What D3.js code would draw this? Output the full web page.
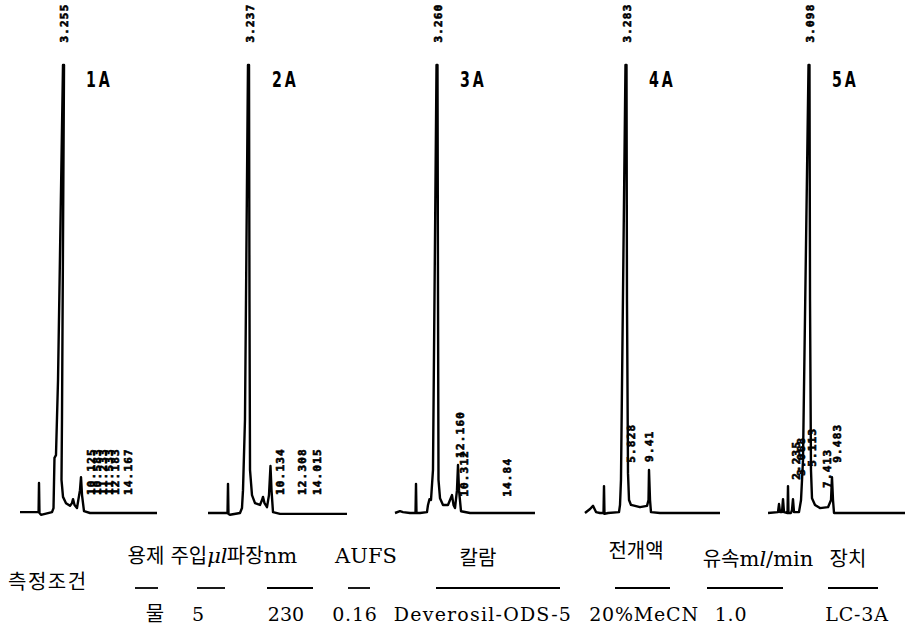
<!DOCTYPE html>
<html>
<head>
<meta charset="utf-8">
<script src="https://cdn.jsdelivr.net/npm/d3@7"></script>
<style>
body { margin: 0; background: #fff; }
.lbl { font-family: "DejaVu Sans Mono", monospace; font-weight: bold; font-size: 11px; letter-spacing: 1.2px; stroke: #000; stroke-width: 0.6px; }
.name { font-family: "DejaVu Sans Condensed", "DejaVu Sans", sans-serif; font-weight: bold; font-size: 21px; letter-spacing: 4px; }
.kr { font-family: "Noto Sans CJK KR", sans-serif; }
.lat { font-family: "DejaVu Serif", "Liberation Serif", serif; }
</style>
</head>
<body>
<div id="gr"></div>
<script>
// chromatogram runs, time in min (0 = injection), signal in % of full scale
var runs = ["1A", "2A", "3A", "4A", "5A"];

var trace1 = [[-3.17,0.2],[-0.17,0.2],[-0.07,0.2],[0,6.7],[0.08,0],[0.33,-0.4],[2.17,0.2],[2.42,1.1],
  [2.58,12.3],[2.83,12.9],[3.17,29.7],[4.0,100],[4.17,100],[3.83,20.8],[3.75,7.4],[4.0,3.6],[4.5,2.2],
  [5.17,1.6],[5.5,2.2],[5.67,3.1],[5.92,1.8],[6.33,1.1],[6.83,5.1],[7.0,8.0],[7.17,4.0],[7.5,0.4],
  [8.5,0],[19.67,0]];
var trace2 = [[-3.33,0],[-0.08,0],[0,6.5],[0.08,-0.2],[0.33,-0.4],[2.0,0],[2.33,1.1],[2.5,5.1],
  [2.83,20.8],[3.33,100],[3.5,100],[3.58,47.5],[3.67,9.6],[4.0,4.0],[4.5,2.2],[5.33,1.8],[5.67,2.9],
  [5.83,3.6],[6.08,2.2],[6.5,1.3],[6.83,4.0],[7.08,10.5],[7.25,5.1],[7.5,0.2],[8.67,-0.2],[19.83,-0.2]];
var trace3 = [[-3.5,0],[-2.67,0.4],[-2.17,0.2],[-1.0,0],[-0.08,0],[0,6.5],[0.08,0],[0.67,0],
  [1.83,0.2],[2.0,1.8],[2.25,3.1],[2.5,2.9],[2.83,9.6],[3.42,100],[3.58,100],[3.67,47.5],[3.75,7.4],
  [4.0,3.3],[4.5,1.8],[5.33,1.8],[5.67,2.9],[6.0,4.0],[6.25,1.8],[6.5,1.1],[6.83,5.1],[7.0,10.7],
  [7.17,5.1],[7.5,0.4],[9.0,0],[19.83,0]];
var trace4 = [[-3.17,0],[-2.33,0.9],[-1.83,1.6],[-1.33,0.2],[-0.67,0],[-0.08,0],[0,6.0],[0.08,-0.2],
  [0.67,0],[2.5,0.2],[2.67,1.8],[2.83,7.4],[3.58,100],[3.75,100],[3.83,47.5],[4.0,8.9],[4.17,2.9],
  [4.5,1.8],[6.0,1.3],[7.17,1.6],[7.42,2.9],[7.5,9.6],[7.67,2.9],[7.83,0.2],[9.33,0],[19.33,0]];
var trace5 = [[-3.33,0],[-1.67,0.2],[-1.5,2.0],[-1.33,0.2],[-1.0,0.2],[-0.83,3.1],[-0.67,0.2],
  [-0.08,0],[0,6.0],[0.08,0],[0.5,0],[0.67,0.7],[0.83,3.1],[1.0,0.2],[1.83,0.2],[2.17,2.9],[2.5,11.8],
  [3.42,100],[3.58,100],[3.67,47.5],[3.83,9.6],[4.0,3.3],[4.5,1.8],[5.33,1.1],[6.67,1.3],[7.17,2.9],
  [7.33,8.0],[7.5,2.9],[7.67,0],[10.33,0],[19.5,0]];
var traces = [trace1, trace2, trace3, trace4, trace5];

// printed retention times: [time, signal, text]
var marks1 = [[4.17,105,"3.255"],[8.67,4,"10.125"],[9.67,4,"10.583"],[10.67,4,"11.233"],
  [11.67,4,"11.533"],[12.67,4,"12.183"],[14.83,4,"14.167"]];
var marks2 = [[3.67,105,"3.237"],[8.67,4,"10.134"],[12.33,4,"12.308"],[14.83,4,"14.015"]];
var marks3 = [[3.67,105,"3.260"],[8.0,3.6,"10.312"],[7.33,12.3,"12.160"],[15.17,3.6,"14.84"]];
var marks4 = [[3.83,105,"3.283"],[4.5,11.2,"5.828"],[7.5,11.4,"9.41"]];
var marks5 = [[3.67,105,"3.098"],[1.33,7.4,"2.235"],[2.17,8.3,"3.068"],[4.0,10.3,"5.113"],
  [6.5,5.6,"7.413"],[8.17,11.2,"9.483"]];
var marks = [marks1, marks2, marks3, marks4, marks5];

// measuring conditions table
var condTitle = "측정조건";
var condHeads = ["용제", "주입μl", "파장nm", "AUFS", "칼람", "전개액", "유속ml/min", "장치"];
var condValues = ["물", "5", "230", "0.16", "Deverosil-ODS-5", "20%MeCN", "1.0", "LC-3A"];

var width = 906, height = 636;
var origins = [39, 228, 416, 604, 788];

var svg = d3.select("#gr").append("svg")
  .attr("width", width)
  .attr("height", height);

var yScale = d3.scaleLinear().domain([0, 100]).range([513, 65]);

runs.forEach(function (name, i) {
  var xScale = d3.scaleLinear().domain([0, 20]).range([origins[i], origins[i] + 120]);
  var g = svg.append("g");

  var line = d3.line()
    .x(function (d) { return xScale(d[0]); })
    .y(function (d) { return yScale(d[1]); });

  g.append("path")
    .datum(traces[i])
    .attr("d", line)
    .attr("fill", "none")
    .attr("stroke", "#000")
    .attr("stroke-width", 2.4)
    .attr("stroke-linejoin", "round");

  g.selectAll("text.lbl")
    .data(marks[i])
    .enter()
    .append("text")
    .attr("class", "lbl")
    .attr("transform", function (d) {
      return "translate(" + xScale(d[0]) + "," + yScale(d[1]) + ") rotate(-90)";
    })
    .attr("dy", "0.35em")
    .text(function (d) { return d[2]; });

  g.append("text")
    .attr("class", "name")
    .attr("transform", "translate(" + (xScale(marks[i][0][0]) + 22) + ",87) scale(0.75,1)")
    .text(name);
});

// condition table
var headX = [146, 199, 262, 366, 478, 636, 758, 848];
var headY = [563, 563, 563, 563, 565, 558, 566, 566];
var rule = [[135,158],[197,225],[267,313],[348,370],[436,560],[615,670],[707,783],[828,878]];
var valX = [155, 198, 286, 355, 483, 644, 731, 857];

svg.append("text")
  .attr("class", "kr")
  .attr("x", 8).attr("y", 589)
  .style("font-size", "20px")
  .style("letter-spacing", "1.5px")
  .text(condTitle);

function splitHead(s) {
  // korean part and latin unit part
  var m = s.match(/^([^A-Za-zμ]*)(.*)$/);
  return [m[1], m[2]];
}

svg.selectAll("text.head")
  .data(condHeads)
  .enter()
  .append("text")
  .attr("class", "head")
  .attr("x", function (d, i) { return headX[i]; })
  .attr("y", function (d, i) { return headY[i]; })
  .attr("text-anchor", "middle")
  .each(function (d) {
    var parts = splitHead(d);
    var t = d3.select(this);
    if (parts[0]) t.append("tspan").attr("class", "kr").style("font-size", "20px").text(parts[0]);
    if (parts[1]) {
      var u = parts[1];
      if (u.indexOf("μl") === 0) {
        t.append("tspan").attr("class", "lat").style("font-size", "21px").style("font-style", "italic").text("μl");
      } else if (u.indexOf("ml") === 0) {
        t.append("tspan").attr("class", "lat").style("font-size", "21px").text("m");
        t.append("tspan").attr("class", "lat").style("font-size", "21px").style("font-style", "italic").text("l");
        t.append("tspan").attr("class", "lat").style("font-size", "21px").text(u.slice(2));
      } else {
        t.append("tspan").attr("class", "lat").style("font-size", "21px").text(u);
      }
    }
  });

svg.selectAll("line.rule")
  .data(rule)
  .enter()
  .append("line")
  .attr("x1", function (d) { return d[0]; })
  .attr("x2", function (d) { return d[1]; })
  .attr("y1", 588).attr("y2", 588)
  .attr("stroke", "#000")
  .attr("stroke-width", 1.8);

svg.selectAll("text.val")
  .data(condValues)
  .enter()
  .append("text")
  .attr("class", function (d, i) { return i === 0 ? "val kr" : "val lat"; })
  .attr("x", function (d, i) { return valX[i]; })
  .attr("y", 621)
  .attr("text-anchor", "middle")
  .style("font-size", function (d, i) { return i === 0 ? "20px" : "19px"; })
  .style("letter-spacing", function (d, i) { return i === 4 ? "1.2px" : (i >= 3 ? "0.8px" : "0px"); })
  .text(function (d) { return d; });
</script>
</body>
</html>
